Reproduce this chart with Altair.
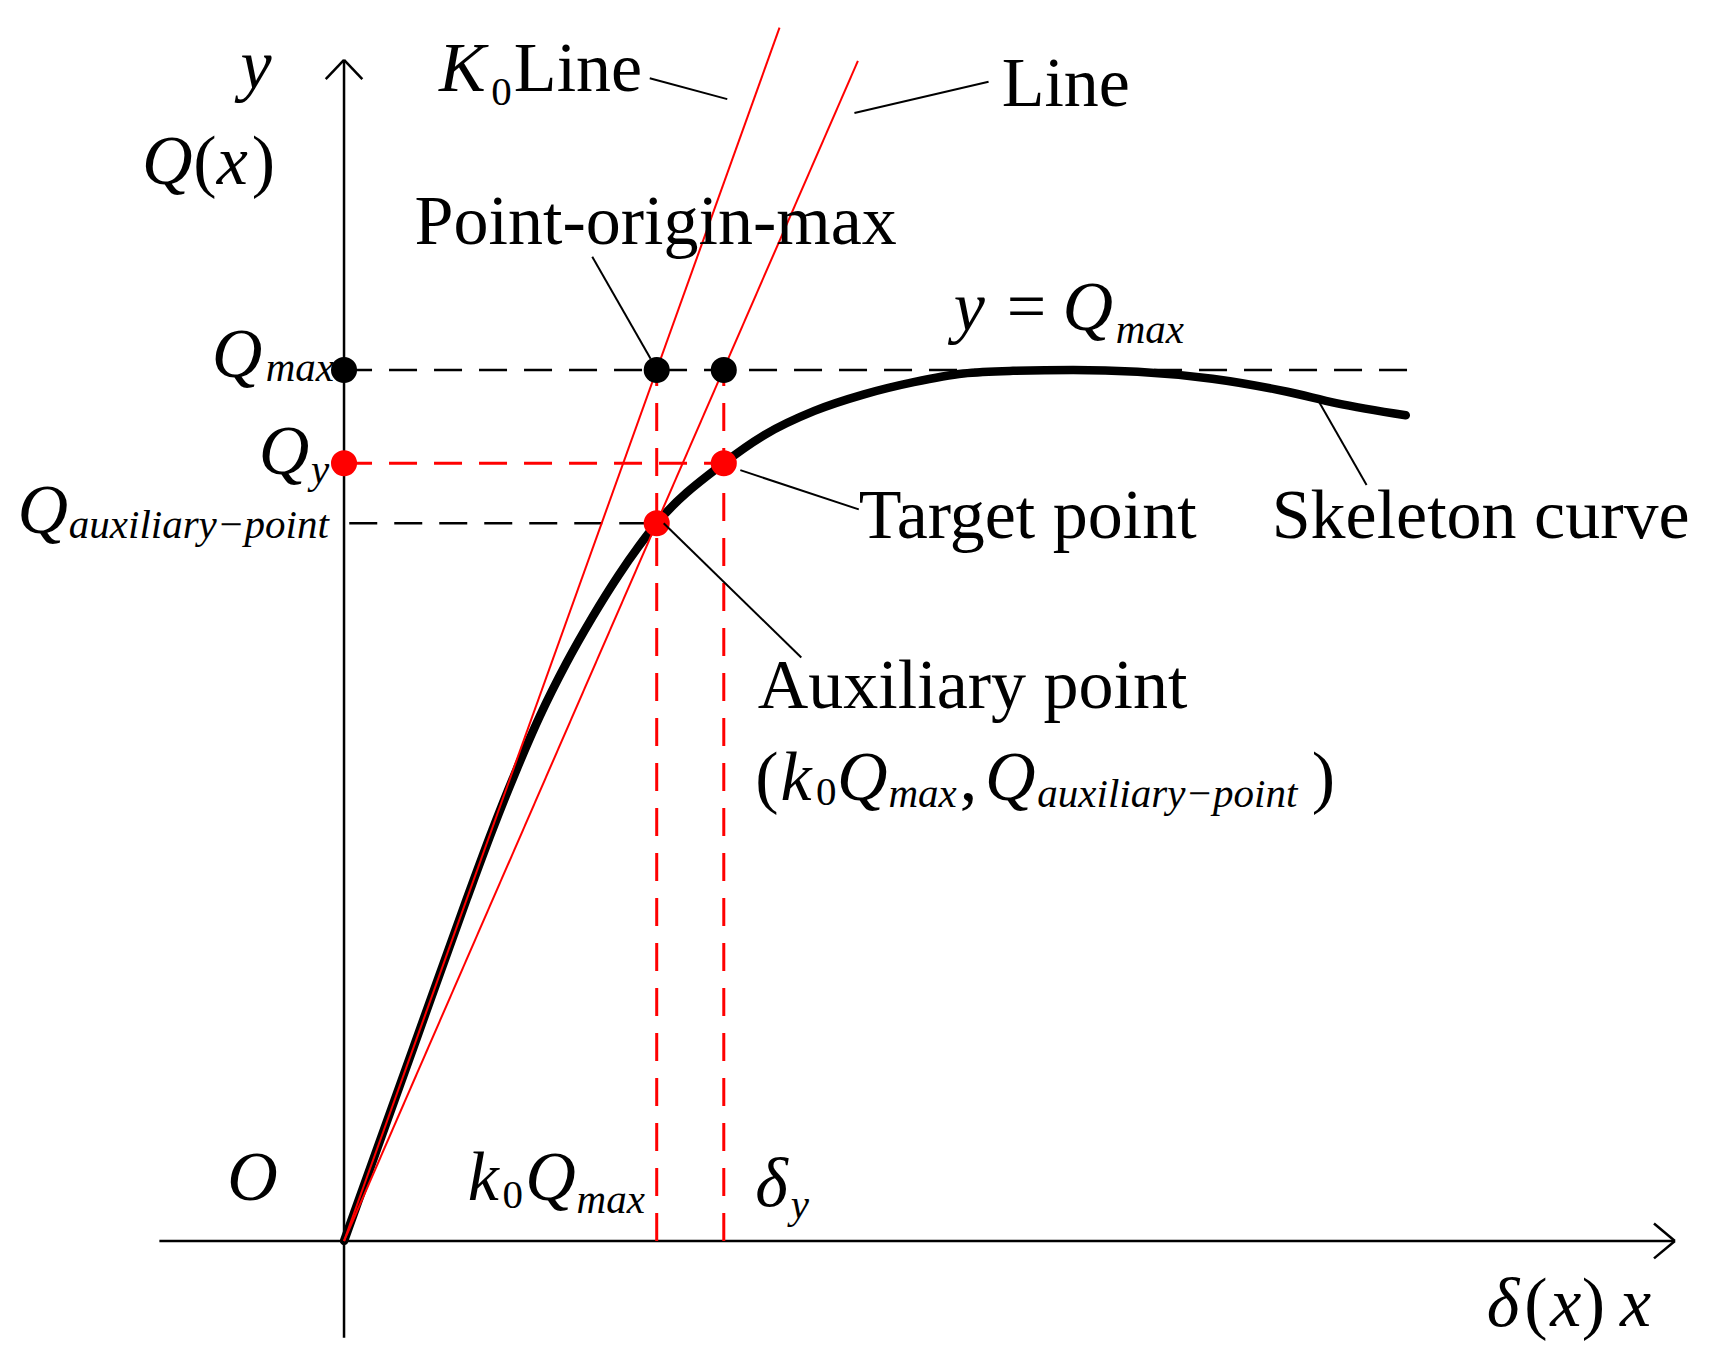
import altair as alt
import pandas as pd

# ---- key values (data units: force Q normalised so Qmax = 100) ----
Q_MAX = 100.0
Q_Y = 89.3
Q_AUX = 82.4
K0_QMAX = 35.9
DELTA_Y = 43.6

# skeleton curve
curve_x = [0, 8.0, 14.1, 17.0, 19.8, 22.5, 25.5, 28.5, 31.5, 33.8, 35.9, 43.6, 48.2, 54.0, 59.7, 65.4, 71.1, 76.8, 83.7, 91.1, 99.7, 108.3, 113.9, 121.9]
curve_y = [0, 22.3, 39.3, 47.1, 54.1, 60.3, 66.3, 71.6, 76.4, 79.7, 82.4, 89.3, 92.5, 95.3, 97.2, 98.6, 99.6, 99.9, 100.0, 99.8, 99.0, 97.5, 96.2, 94.8]

# straight red lines (K0 line, secant line) from origin to their upper ends
red_x = [0, 0]
red_y = [0, 0]
red_x2 = [50.0, 59.0]
red_y2 = [139.3, 135.5]

# coordinate axes with arrow heads
axis_x = [0, -21.2, 0, 0, 152.8, 152.8]
axis_y = [-11.1, 0, 135.6, 135.6, 0, 0]
axis_x2 = [0, 152.8, -2.1, 2.1, 150.4, 150.4]
axis_y2 = [135.6, 0, 133.4, 133.4, 2.0, -2.0]

# dashed guides
bdash_x = [0, 0.6]
bdash_y = [Q_MAX, Q_AUX]
bdash_x2 = [123.2, K0_QMAX]
bdash_y2 = [Q_MAX, Q_AUX]

rdash_x = [0, K0_QMAX, DELTA_Y]
rdash_y = [Q_Y, 0, 0]
rdash_x2 = [DELTA_Y, K0_QMAX, DELTA_Y]
rdash_y2 = [Q_Y, Q_MAX, Q_MAX]

# marked points
black_px = [0, K0_QMAX, DELTA_Y]
black_py = [Q_MAX, Q_MAX, Q_MAX]
red_px = [0, DELTA_Y, K0_QMAX]
red_py = [Q_Y, Q_Y, Q_AUX]

# leader lines of annotations
lead_x = [35.1, 58.6, 28.5, 45.5, 36.7, 111.9]
lead_y = [133.5, 129.5, 113.0, 88.5, 82.4, 96.4]
lead_x2 = [44.0, 74.0, 35.2, 59.1, 52.5, 117.4]
lead_y2 = [131.1, 133.1, 101.3, 84.0, 67.0, 86.8]

# text pieces
up_text = ["Line", "Line", "Point-origin-max", "Target point", "Skeleton curve", "Auxiliary point",
           "(", ",", ")", "=", "(", ")", "(", ")"]
up_x = [19.5, 75.5, 8.1, 59.1, 106.5, 47.5, 47.2, 70.7, 111.1, 76.1, -17.3, -10.6, 135.5, 142.1]
up_y = [132.0, 130.3, 114.5, 80.7, 80.7, 61.2, 50.6, 50.6, 50.6, 104.6, 121.4, 121.4, -9.8, -9.8]

it_text = ["K", "y", "Q", "x", "Q", "Q", "Q", "y", "Q", "k", "Q", "Q", "O", "k", "Q", "δ", "δ", "x", "x"]
it_x = [10.9, -11.9, -23.2, -14.6, -15.2, -9.8, -37.5, 70.0, 82.5, 50.1, 56.6, 73.6, -13.4, 14.2, 20.8, 47.2, 131.2, 138.5, 146.5]
it_y = [132.0, 132.4, 121.4, 121.4, 99.2, 88.1, 81.3, 104.6, 104.6, 50.6, 50.6, 50.6, 4.7, 4.7, 4.7, 4.0, -9.8, -9.8, -9.8]

sub_up_text = ["0", "0", "0"]
sub_up_x = [16.9, 54.2, 18.2]
sub_up_y = [130.4, 50.1, 3.8]

sub_it_text = ["max", "y", "auxiliary\u2212point", "max", "max", "auxiliary\u2212point", "max", "y"]
sub_it_x = [-9.0, -3.8, -31.6, 88.6, 62.5, 79.6, 26.7, 51.3]
sub_it_y = [98.7, 87.0, 80.7, 103.1, 49.8, 49.8, 3.2, 2.6]

# ---- chart ----
FONT = "Liberation Serif"
xs = alt.Scale(domain=[-38.58, 156.6], nice=False, zero=False)
ys = alt.Scale(domain=[-12.86, 141.56], nice=False, zero=False)


def seg_layer(xa, ya, xb, yb, color, width, dash=None):
    df = pd.DataFrame({"x": xa, "y": ya, "x2": xb, "y2": yb})
    kw = dict(color=color, strokeWidth=width, strokeCap="butt")
    if dash:
        kw["strokeDash"] = dash
    return alt.Chart(df).mark_rule(**kw).encode(
        x=alt.X("x:Q", scale=xs, axis=None),
        y=alt.Y("y:Q", scale=ys, axis=None),
        x2="x2:Q",
        y2="y2:Q",
    )


def text_layer(t, xa, ya, size, style):
    df = pd.DataFrame({"t": t, "x": xa, "y": ya})
    return alt.Chart(df).mark_text(
        font=FONT, fontSize=size, fontStyle=style, align="left",
        baseline="alphabetic", color="black"
    ).encode(
        x=alt.X("x:Q", scale=xs, axis=None),
        y=alt.Y("y:Q", scale=ys, axis=None),
        text="t:N",
    )


def point_layer(xa, ya, color):
    df = pd.DataFrame({"x": xa, "y": ya})
    return alt.Chart(df).mark_circle(size=680, color=color, opacity=1).encode(
        x=alt.X("x:Q", scale=xs, axis=None),
        y=alt.Y("y:Q", scale=ys, axis=None),
    )


axes = seg_layer(axis_x, axis_y, axis_x2, axis_y2, "black", 2.5)
bdash = seg_layer(bdash_x, bdash_y, bdash_x2, bdash_y2, "black", 2.5, [28, 17])
rdash = seg_layer(rdash_x, rdash_y, rdash_x2, rdash_y2, "#ff0000", 3, [28, 17])

curve_df = pd.DataFrame({"x": curve_x, "y": curve_y, "o": list(range(len(curve_x)))})
curve = alt.Chart(curve_df).mark_line(
    color="black", strokeWidth=8.5, interpolate="monotone", strokeCap="round"
).encode(
    x=alt.X("x:Q", scale=xs, axis=None),
    y=alt.Y("y:Q", scale=ys, axis=None),
    order="o:Q",
)

red_lines = seg_layer(red_x, red_y, red_x2, red_y2, "#ff0000", 2)
leaders = seg_layer(lead_x, lead_y, lead_x2, lead_y2, "black", 2)

pts_black = point_layer(black_px, black_py, "black")
pts_red = point_layer(red_px, red_py, "#ff0000")

t_up = text_layer(up_text, up_x, up_y, 70, "normal")
t_it = text_layer(it_text, it_x, it_y, 70, "italic")
t_sub_up = text_layer(sub_up_text, sub_up_x, sub_up_y, 41, "normal")
t_sub_it = text_layer(sub_it_text, sub_it_x, sub_it_y, 41, "italic")

chart = alt.layer(
    axes, bdash, rdash, curve, red_lines, pts_black, pts_red, leaders,
    t_up, t_it, t_sub_up, t_sub_it
).properties(
    width=1700, height=1345, padding=0, background="white"
).configure_view(stroke=None)

chart.save("out.html", embed_options={"renderer": "svg", "actions": False})
